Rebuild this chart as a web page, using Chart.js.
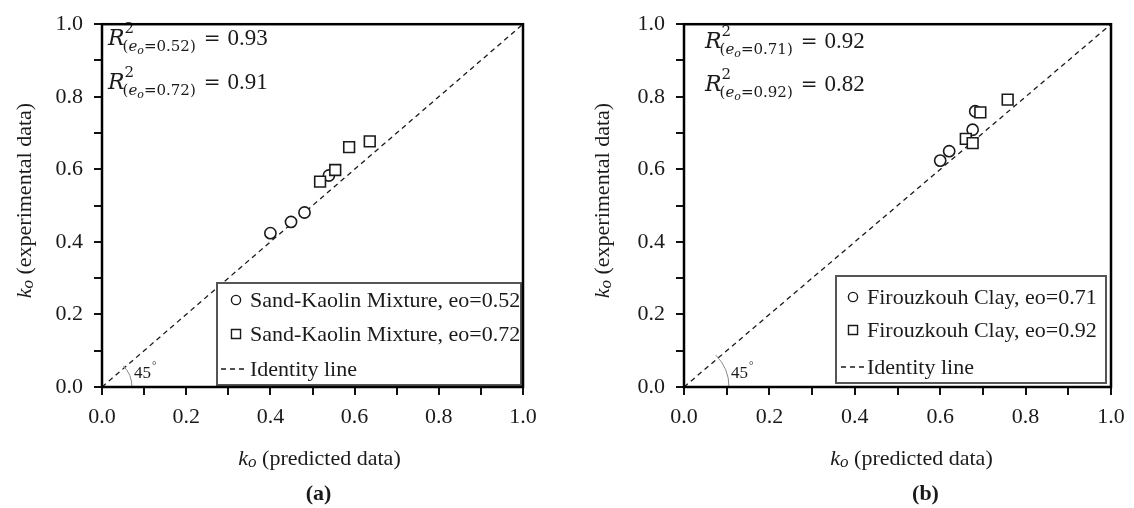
<!DOCTYPE html>
<html>
<head>
<meta charset="utf-8">
<title>ko predicted vs experimental</title>
<script src="https://cdn.jsdelivr.net/npm/chart.js@4.4.1/dist/chart.umd.min.js"></script>
<style>
  html, body { margin: 0; padding: 0; background: #fff; }
  .panel { position: absolute; top: 0; width: 567px; height: 508px; }
  #panelA { left: 0; }
  #panelB { left: 567px; }
</style>
</head>
<body>
<div class="panel" id="panelA"><canvas id="chartA"></canvas></div>
<div class="panel" id="panelB"><canvas id="chartB"></canvas></div>
<script>
// Sand-Kaolin mixture (panel a)
const sandE052X = [0.400, 0.449, 0.481, 0.539];
const sandE052Y = [0.424, 0.455, 0.481, 0.583];
const sandE072X = [0.518, 0.554, 0.587, 0.636];
const sandE072Y = [0.566, 0.598, 0.661, 0.677];

// Firouzkouh clay (panel b)
const clayE071X = [0.600, 0.621, 0.676, 0.682];
const clayE071Y = [0.624, 0.650, 0.709, 0.760];
const clayE092X = [0.660, 0.676, 0.694, 0.758];
const clayE092Y = [0.684, 0.672, 0.757, 0.792];

// 1:1 line
const identityX = [0, 1];
const identityY = [0, 1];

const tickLabels = ['0.0', '0.2', '0.4', '0.6', '0.8', '1.0'];

const labelsA = ['Sand-Kaolin Mixture, eo=0.52', 'Sand-Kaolin Mixture, eo=0.72', 'Identity line'];
const labelsB = ['Firouzkouh Clay, eo=0.71', 'Firouzkouh Clay, eo=0.92', 'Identity line'];
const eoA = ['0.52', '0.72'];
const r2A = [0.93, 0.91];
const eoB = ['0.71', '0.92'];
const r2B = [0.92, 0.82];

const SERIF = '"Liberation Serif", "Times New Roman", serif';
const MATH = '"DejaVu Serif", serif';
const INK = '#1a1a1a';

const toPoints = (xs, ys) => xs.map((x, i) => ({ x: x, y: ys[i] }));

// R^2_(eo=..) = value, math-style
function drawR2(ctx, x, y, eo, r2) {
    ctx.textAlign = 'left';
    ctx.textBaseline = 'alphabetic';
    ctx.font = 'italic 22px ' + MATH;
    ctx.fillText('R', x, y);
    const rw = ctx.measureText('R').width;
    ctx.font = '15px ' + MATH;
    ctx.fillText('2', x + rw, y - 12);
    let cx = x + rw - 2;
    const sy = y + 6;
    ctx.fillText('(', cx, sy);
    cx += ctx.measureText('(').width;
    ctx.font = 'italic 15px ' + MATH;
    ctx.fillText('e', cx, sy);
    cx += ctx.measureText('e').width;
    ctx.font = 'italic 11px ' + MATH;
    ctx.fillText('o', cx, sy + 3);
    cx += ctx.measureText('o').width;
    ctx.font = '15px ' + MATH;
    const tail = '=' + eo + ')';
    ctx.fillText(tail, cx, sy);
    cx += ctx.measureText(tail).width + 8;
    ctx.font = '20px ' + MATH;
    ctx.fillText('=', cx, y);
    cx += ctx.measureText('=').width + 7;
    ctx.font = '23px ' + SERIF;
    ctx.fillText(r2.toFixed(2), cx, y);
}

// "ko (...)" title, centred on (0,0) of the current transform
function drawKoTitle(ctx, rest) {
    ctx.textBaseline = 'alphabetic';
    ctx.font = 'italic 22px ' + SERIF;
    const kw = ctx.measureText('k').width;
    ctx.font = 'italic 17px ' + SERIF;
    const ow = ctx.measureText('o').width;
    ctx.font = '22px ' + SERIF;
    const rw = ctx.measureText(' ' + rest).width;
    let x = -(kw + ow + rw) / 2;
    ctx.textAlign = 'left';
    ctx.font = 'italic 22px ' + SERIF;
    ctx.fillText('k', x, 7);
    x += kw;
    ctx.font = 'italic 17px ' + SERIF;
    ctx.fillText('o', x, 9);
    x += ow;
    ctx.font = '22px ' + SERIF;
    ctx.fillText(' ' + rest, x, 7);
}

const panelDecor = {
    id: 'panelDecor',
    afterDatasetsDraw(chart, args, o) {
        const { ctx, chartArea: { left, right, top, bottom } } = chart;
        const midX = (left + right) / 2;
        const midY = (top + bottom) / 2;
        ctx.save();
        ctx.fillStyle = INK;

        // 45 degree arc at the origin
        ctx.strokeStyle = '#888';
        ctx.lineWidth = 1;
        ctx.beginPath();
        ctx.arc(left, bottom, o.arcR, -Math.PI / 4, 0);
        ctx.stroke();
        ctx.font = '17px ' + SERIF;
        ctx.textAlign = 'left';
        ctx.textBaseline = 'alphabetic';
        ctx.fillText('45', left + o.arcR + 2, bottom - 9);
        const dw = ctx.measureText('45').width;
        ctx.font = '11px ' + SERIF;
        ctx.fillText('\u00B0', left + o.arcR + 3 + dw, bottom - 18);

        // R squared notes
        drawR2(ctx, left + o.r2Indent, o.r2Y[0], o.eo[0], o.r2[0]);
        drawR2(ctx, left + o.r2Indent, o.r2Y[1], o.eo[1], o.r2[1]);

        // legend box
        const lg = o.legend;
        const x0 = right - lg.fromRight - lg.w;
        const y0 = bottom - lg.fromBottom - lg.h;
        ctx.fillStyle = '#fff';
        ctx.fillRect(x0, y0, lg.w, lg.h);
        ctx.strokeStyle = '#555';
        ctx.lineWidth = 2;
        ctx.strokeRect(x0, y0, lg.w, lg.h);

        const styles = ['circle', 'rect'];
        const radii = [4.6, 6.4];
        for (let i = 0; i < 2; i++) {
            ctx.fillStyle = '#fff';
            ctx.strokeStyle = INK;
            ctx.lineWidth = 1.4;
            Chart.helpers.drawPoint(ctx, { pointStyle: styles[i], radius: radii[i], borderWidth: 1.4, rotation: 0 },
                x0 + lg.markerX, y0 + lg.rows[i]);
        }
        ctx.strokeStyle = INK;
        ctx.lineWidth = 1.3;
        ctx.setLineDash([5, 4]);
        ctx.beginPath();
        ctx.moveTo(x0 + lg.dash[0], y0 + lg.rows[2]);
        ctx.lineTo(x0 + lg.dash[1], y0 + lg.rows[2]);
        ctx.stroke();
        ctx.setLineDash([]);

        ctx.fillStyle = INK;
        ctx.font = '22px ' + SERIF;
        ctx.textAlign = 'left';
        ctx.textBaseline = 'middle';
        o.labels.forEach((t, i) => ctx.fillText(t, x0 + lg.textX, y0 + lg.rows[i] + 1));

        // frame on all four sides
        ctx.strokeStyle = '#000';
        ctx.lineWidth = 2.5;
        ctx.strokeRect(left, top, right - left, bottom - top);

        // axis titles and panel tag
        ctx.save();
        ctx.translate(o.yTitleX, midY - 5);
        ctx.rotate(-Math.PI / 2);
        drawKoTitle(ctx, '(experimental data)');
        ctx.restore();

        ctx.save();
        ctx.translate(midX + o.xTitleShift, 458);
        drawKoTitle(ctx, '(predicted data)');
        ctx.restore();

        ctx.font = 'bold 22px ' + SERIF;
        ctx.textAlign = 'center';
        ctx.textBaseline = 'middle';
        ctx.fillText(o.tag, midX + o.tagShift, 494);
        ctx.restore();
    }
};

function axis(widthFix, heightFix) {
    return {
        type: 'linear',
        min: 0,
        max: 1,
        border: { display: false },
        grid: { drawOnChartArea: false, drawTicks: true, tickLength: 8, lineWidth: 2, color: '#111' },
        ticks: {
            stepSize: 0.1,
            color: INK,
            padding: widthFix ? 11 : 9,
            font: { family: SERIF, size: 22 },
            maxRotation: 0,
            autoSkip: false,
            callback: function(v) {
                const i = Math.round(v * 10);
                return i % 2 === 0 ? tickLabels[i / 2] : '';
            }
        },
        afterFit: function(scale) {
            if (widthFix) scale.width = widthFix;
            if (heightFix) scale.height = heightFix;
        }
    };
}

function buildPanel(canvasId, s1, s2, pad, yWidth, decor) {
    return new Chart(document.getElementById(canvasId), {
        type: 'scatter',
        data: {
            datasets: [
                {
                    label: decor.labels[1],
                    data: s2,
                    pointStyle: 'rect',
                    pointRadius: 7.6,
                    pointBorderWidth: 1.6,
                    pointBackgroundColor: '#fff',
                    pointBorderColor: INK,
                    order: 1
                },
                {
                    label: decor.labels[0],
                    data: s1,
                    pointStyle: 'circle',
                    pointRadius: 5.6,
                    pointBorderWidth: 1.6,
                    pointBackgroundColor: '#fff',
                    pointBorderColor: INK,
                    order: 2
                },
                {
                    label: decor.labels[2],
                    data: toPoints(identityX, identityY),
                    showLine: true,
                    borderColor: INK,
                    borderWidth: 1.3,
                    borderDash: [5, 4],
                    pointRadius: 0,
                    order: 3
                }
            ]
        },
        options: {
            responsive: true,
            maintainAspectRatio: false,
            animation: false,
            layout: { padding: pad },
            scales: {
                x: axis(0, 90),
                y: axis(yWidth, 0)
            },
            plugins: {
                legend: { display: false },
                tooltip: { enabled: false },
                panelDecor: decor
            }
        },
        plugins: [panelDecor]
    });
}

buildPanel('chartA',
    toPoints(sandE052X, sandE052Y),
    toPoints(sandE072X, sandE072Y),
    { left: 0, right: 44, top: 20, bottom: 31 },
    102,
    {
        labels: labelsA, eo: eoA, r2: r2A, r2Y: [45, 89], r2Indent: 6,
        arcR: 30, yTitleX: 24, xTitleShift: 7, tag: '(a)', tagShift: 6,
        legend: { w: 304, h: 102, fromRight: 2, fromBottom: 2, rows: [17, 51, 86], markerX: 19, textX: 33, dash: [4, 31] }
    });

buildPanel('chartB',
    toPoints(clayE071X, clayE071Y),
    toPoints(clayE092X, clayE092Y),
    { left: 0, right: 23, top: 20, bottom: 31 },
    117,
    {
        labels: labelsB, eo: eoB, r2: r2B, r2Y: [48, 91], r2Indent: 21,
        arcR: 45, yTitleX: 35, xTitleShift: 14, tag: '(b)', tagShift: 28,
        legend: { w: 270, h: 107, fromRight: 5, fromBottom: 4, rows: [21, 54, 91], markerX: 17, textX: 31, dash: [5, 29] }
    });
</script>
</body>
</html>
